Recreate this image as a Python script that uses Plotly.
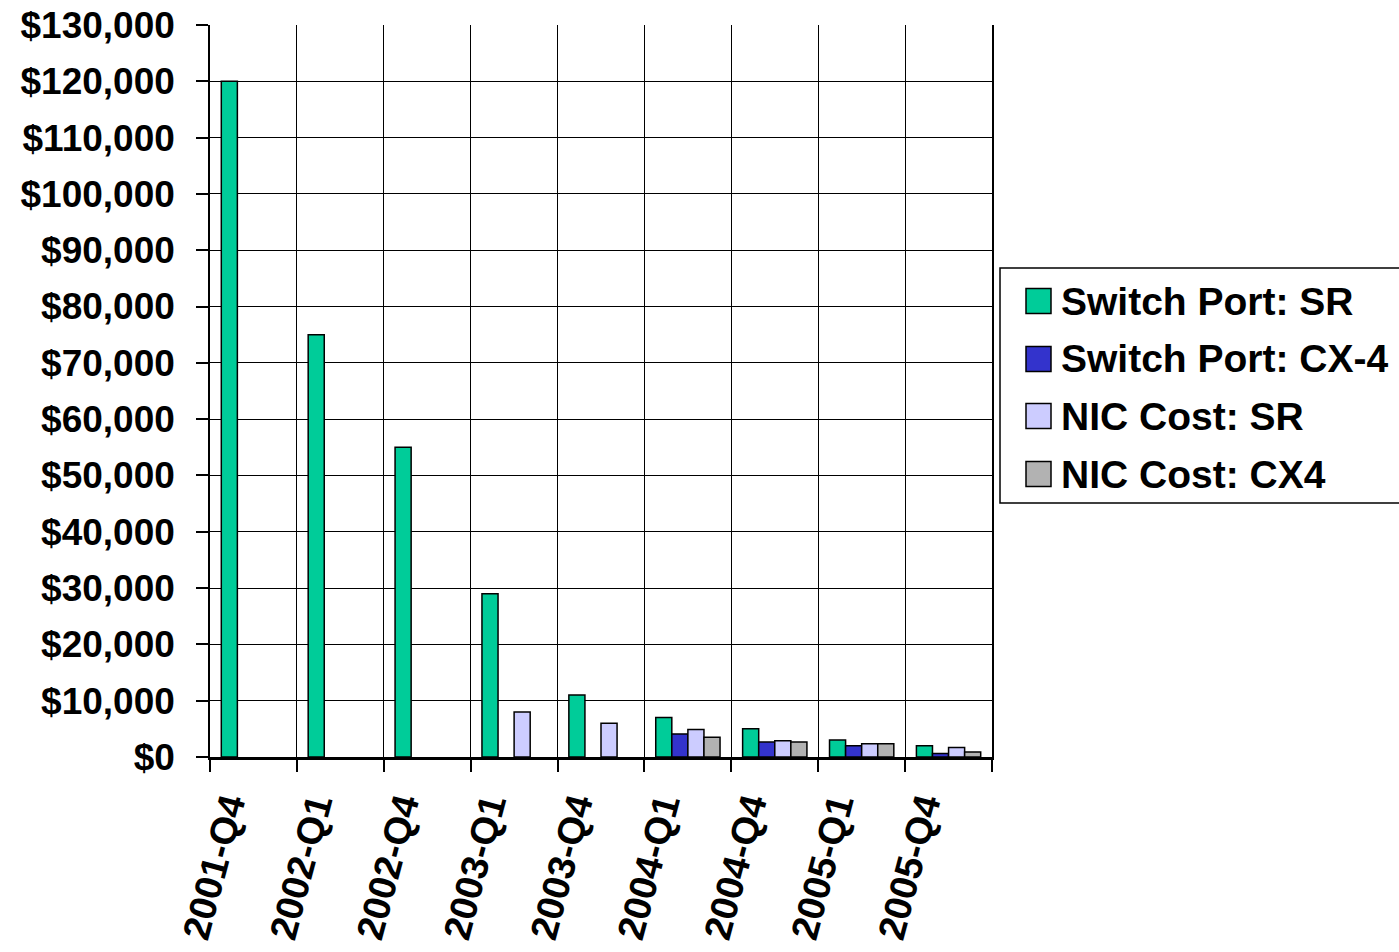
import plotly.graph_objects as go

# Quarterly price points
quarters = ["2001-Q4", "2002-Q1", "2002-Q4", "2003-Q1", "2003-Q4",
            "2004-Q1", "2004-Q4", "2005-Q1", "2005-Q4"]

switch_sr = [120000, 75000, 55000, 29000, 11000, 7000, 5000, 3000, 2000]
switch_cx4 = [None, None, None, None, None, 4100, 2650, 2000, 600]
nic_sr = [None, None, None, 8000, 6000, 4900, 2900, 2350, 1700]
nic_cx4 = [None, None, None, None, None, 3500, 2650, 2350, 900]

series_names = ["Switch Port: SR", "Switch Port: CX-4", "NIC Cost: SR", "NIC Cost: CX4"]
series_values = [switch_sr, switch_cx4, nic_sr, nic_cx4]
series_colors = ["#00CC99", "#3333CC", "#CCCCFF", "#B2B2B2"]

W, H = 1399, 952
L, R, T, B = 210, 407, 25, 195
FONT = "Liberation Sans, Arial, sans-serif"

fig = go.Figure()
for name, vals, col in zip(series_names, series_values, series_colors):
    fig.add_trace(go.Bar(
        x=quarters, y=vals, name=name, showlegend=False,
        marker=dict(color=col, line=dict(color="black", width=1.5)),
    ))

# Paper-coordinate helpers for the legend panel
pw, ph = W - L - R, H - T - B
def xp(px):
    return (px - L) / pw
def yp(py):
    return (H - B - py) / ph

shapes = [dict(type="rect", xref="paper", yref="paper",
               x0=xp(1000), x1=xp(1420), y0=yp(503), y1=yp(268),
               line=dict(color="black", width=1.5), fillcolor="white", layer="above")]
annotations = []
row_y = [301, 359, 416, 474]
for name, col, ry in zip(series_names, series_colors, row_y):
    shapes.append(dict(type="rect", xref="paper", yref="paper",
                       x0=xp(1026), x1=xp(1051), y0=yp(ry + 12.5), y1=yp(ry - 12.5),
                       line=dict(color="black", width=1.5), fillcolor=col, layer="above"))
    annotations.append(dict(xref="paper", yref="paper", x=xp(1059), y=yp(ry),
                            xanchor="left", yanchor="middle", showarrow=False,
                            text=f"<b>{name}</b>",
                            font=dict(family=FONT, size=39, color="black")))

fig.update_layout(
    width=W, height=H,
    margin=dict(l=L, r=R, t=T, b=B, pad=0),
    paper_bgcolor="white", plot_bgcolor="white",
    barmode="group", bargap=0.26, bargroupgap=0,
    font=dict(family=FONT, color="black"),
    shapes=shapes, annotations=annotations,
    xaxis=dict(
        type="category", tickson="boundaries", automargin=False,
        showgrid=True, gridcolor="black", gridwidth=1,
        showline=True, linecolor="black", linewidth=2.5,
        ticks="outside", ticklen=12, tickwidth=1.5, tickcolor="black",
        tickangle=-75, ticklabelshift=-26, ticklabelstandoff=8,
        tickfont=dict(family=FONT, size=38, color="black", weight="bold"),
    ),
    yaxis=dict(
        range=[0, 130000], dtick=10000, tick0=0, automargin=False,
        tickprefix="$", tickformat=",d",
        showgrid=True, gridcolor="black", gridwidth=1,
        zeroline=False,
        showline=True, linecolor="black", linewidth=1.5, mirror=True,
        ticks="outside", ticklen=12, tickwidth=1.5, tickcolor="black",
        ticklabelstandoff=14,
        tickfont=dict(family=FONT, size=37, color="black", weight="bold"),
    ),
)

fig.write_html("out.html")
